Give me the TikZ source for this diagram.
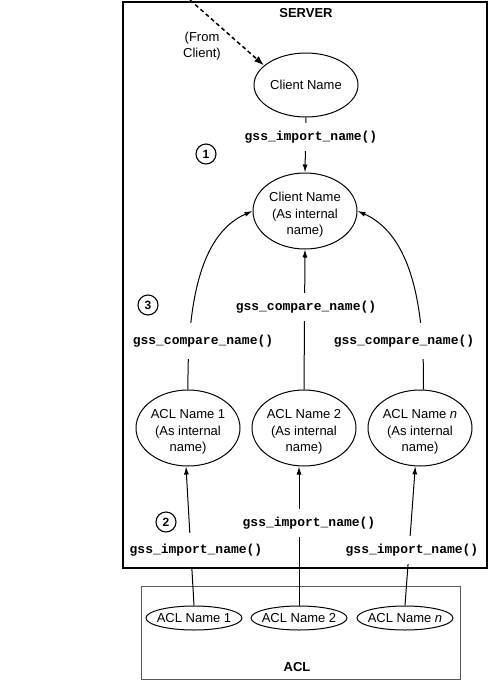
\documentclass[tikz,border=0pt]{standalone}
\usepackage{fontspec}
\setmainfont{Liberation Sans}
\setmonofont{Liberation Mono}
\usetikzlibrary{shapes.geometric,arrows.meta}
\newcommand{\tstrut}{\rule{0pt}{17pt}}
\begin{document}
\begin{tikzpicture}[x=1pt,y=-1pt,
  every node/.style={font=\fontsize{13}{16.5}\selectfont},
  ell/.style={draw, ellipse, line width=1pt, inner xsep=-4pt, inner ysep=0pt, align=center},
  big/.style={ell, minimum width=104pt, minimum height=76pt},
  small/.style={ell, inner xsep=-15pt, inner ysep=-2pt, minimum width=96pt, minimum height=24pt},
  fn/.style={font=\fontsize{13}{15}\selectfont\ttfamily\bfseries, fill=white, inner xsep=1pt, inner ysep=8pt},
  num/.style={draw, circle, line width=1.1pt, minimum size=20pt, inner sep=0pt, font=\fontsize{12}{12}\selectfont\bfseries},
  arr/.style={line width=1pt, -{Latex[length=8pt,width=5pt]}},
  dasharr/.style={line width=1.5pt, dash pattern=on 4pt off 3pt, -{Latex[length=10pt,width=7pt]}},
  ttl/.style={font=\fontsize{13}{16}\selectfont\bfseries}]
\useasboundingbox (0,0) rectangle (491,681);
\draw[line width=1.6pt] (123,2) rectangle (487,568);
\draw[line width=0.8pt, black!65] (141,586) rectangle (460,679);

\node[ttl] (srv) at (306,13) {SERVER};
\node[align=center] (from) at (202,46) {(From\\Client)};
\node[ell, minimum width=104pt, minimum height=64pt] (cn) at (306,85) {Client Name};
\node[big] (ci) at (305,211) {\tstrut Client Name\\(As internal\\name)};
\node[big] (a1) at (188,428) {\tstrut ACL Name 1\\(As internal\\name)};
\node[big] (a2) at (304,428) {\tstrut ACL Name 2\\(As internal\\name)};
\node[big] (an) at (420,428) {\tstrut ACL Name \textit{n}\\(As internal\\name)};
\node[small] (b1) at (194,618) {ACL Name 1};
\node[small] (b2) at (299,618) {ACL Name 2};
\node[small] (bn) at (405,618) {ACL Name \textit{n}};
\node[ttl] (acl) at (297,667) {ACL};

\coordinate (src) at (190,0);
\draw[dasharr] (src) -- (cn.155);

\draw[arr] (cn.south) -- (ci.north);
\draw[arr] (a2.north) -- (ci.south);
\draw[arr] (a1.north) .. controls (187,290) and (205,232) .. (ci.west);
\draw[arr] (an.85) .. controls (425,290) and (405,232) .. (ci.east);
\draw[arr] (b1.north) -- (a1.267);
\draw[arr] (b2.north) -- (b2.north |- a2.south);
\draw[arr] (bn.north) -- (an.263);

\node[fn] (imp1) at (311,137) {gss\_import\_name()};
\node[fn] (cmpM) at (306,307) {gss\_compare\_name()};
\node[fn, inner ysep=12pt] (cmpL) at (203,341) {gss\_compare\_name()};
\node[fn, inner ysep=12pt] (cmpR) at (404,341) {gss\_compare\_name()};
\node[fn] (impM) at (309,523) {gss\_import\_name()};
\node[fn, inner ysep=11pt] (impL) at (196,550) {gss\_import\_name()};
\node[fn] (impR) at (412,550) {gss\_import\_name()};

\node[num] (n1) at (206,154) {1};
\node[num] (n3) at (148,305) {3};
\node[num] (n2) at (166,522) {2};
\end{tikzpicture}
\end{document}
